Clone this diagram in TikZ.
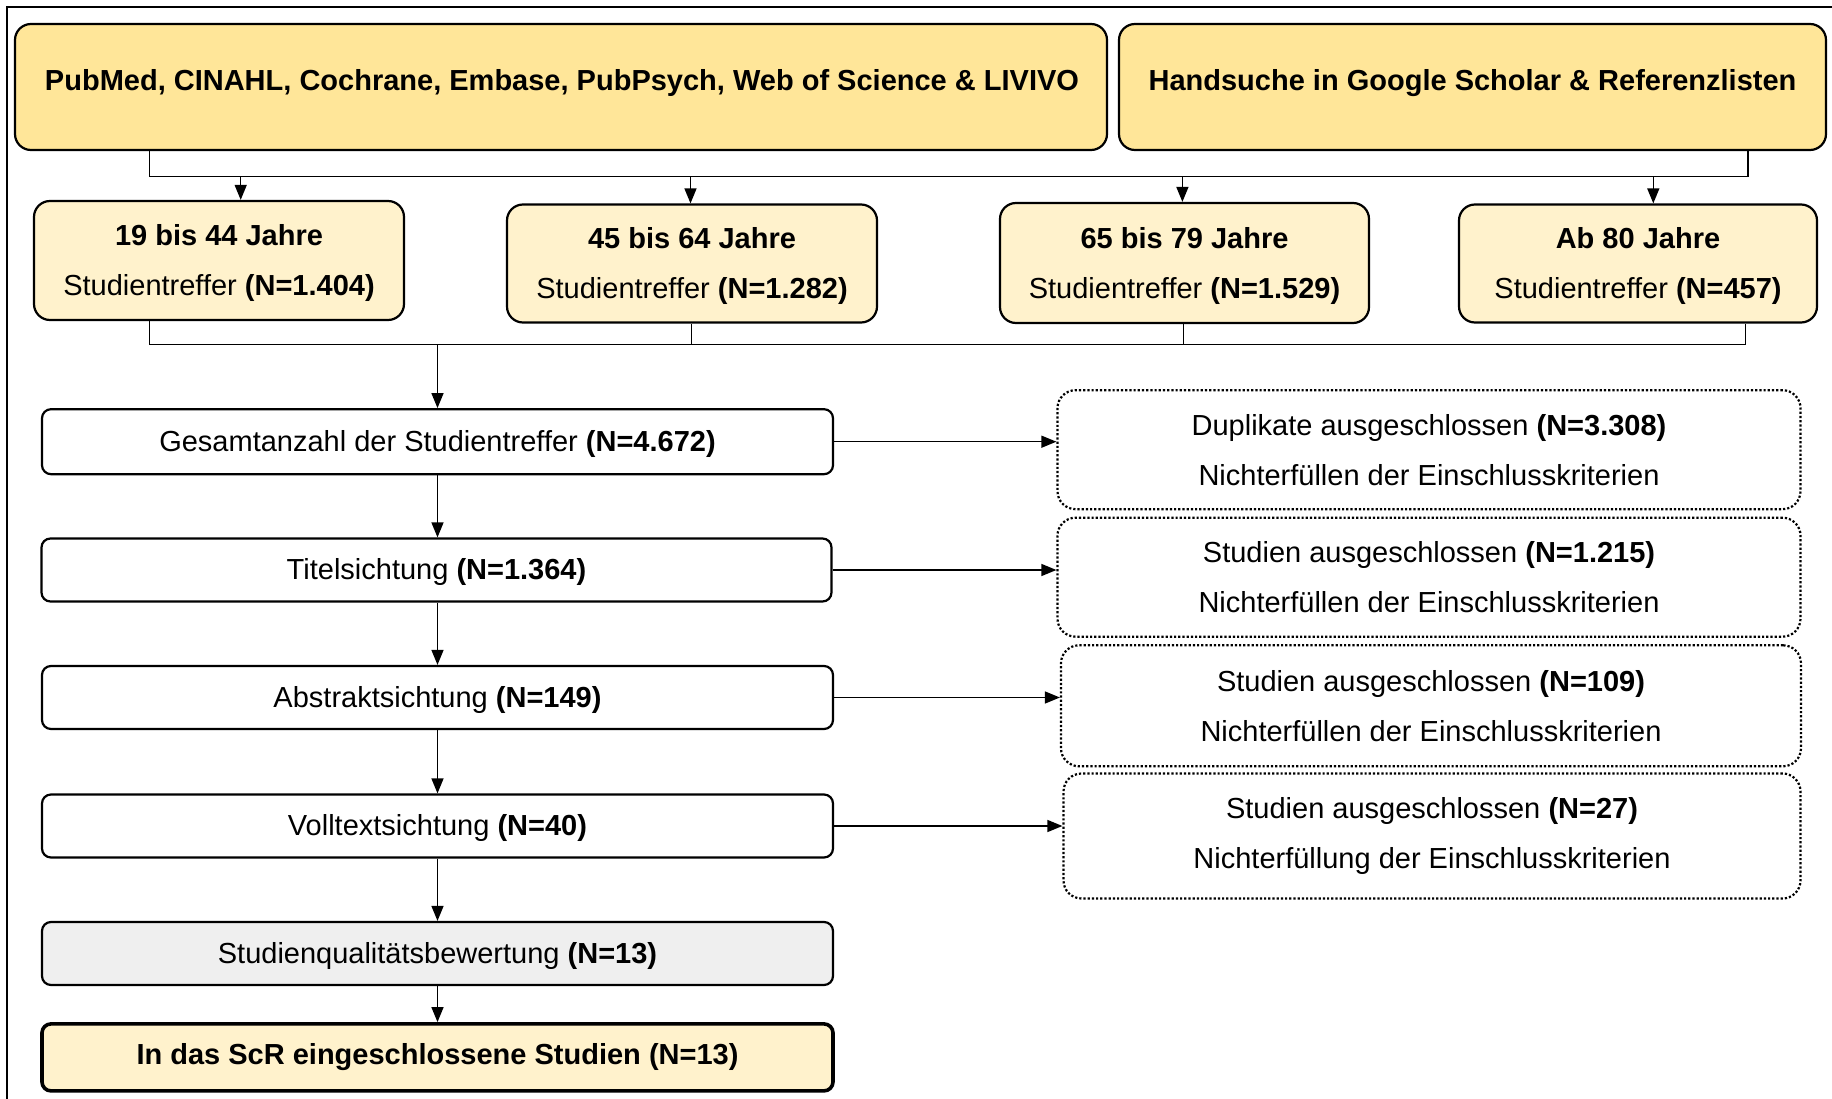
\documentclass[tikz,border=0pt]{standalone}
\usepackage{fontspec}
\setmainfont{Liberation Sans}
\usetikzlibrary{arrows.meta}
\definecolor{topyellow}{HTML}{FFE699}
\definecolor{lightyellow}{HTML}{FFF2CC}
\definecolor{lightgray}{HTML}{EFEFEF}
\tikzset{
  plainbase/.style={draw=black, line width=2.2pt, inner sep=0pt, align=center,
    font=\fontsize{29}{50}\selectfont},
  base/.style={plainbase, execute at begin node={\rule{0pt}{26pt}}},
  topbox/.style={base, fill=topyellow, rounded corners=16pt},
  agebox/.style={plainbase, execute at begin node={\rule{0pt}{77pt}},
    fill=lightyellow, rounded corners=16pt},
  stepbox/.style={base, fill=white, rounded corners=9pt},
  graybox/.style={stepbox, fill=lightgray},
  finalbox/.style={plainbase, fill=lightyellow, rounded corners=9pt, line width=3.6pt},
  exclbox/.style={plainbase, dotted, line width=2.2pt, rounded corners=18pt},
  conn/.style={line width=1.4pt},
  arr/.style={conn, -{Triangle[length=15pt,width=12pt]}},
  txt/.style={font=\fontsize{29}{50}\selectfont, inner sep=0pt}
}
\begin{document}
\begin{tikzpicture}[x=1pt,y=-1pt]
\useasboundingbox (0,0) rectangle (1832,1099);
% frame
\coordinate (fbl) at (7,1099);
\coordinate (ftl) at (7,7);
\coordinate (ftr) at (1832,7);
\draw[line width=1.5pt] (fbl) -- (ftl) -- (ftr);

% top sources
\node[topbox, minimum width=1092pt, minimum height=126pt] (db) at (561,87) {};
\node[txt] (dbt) at (562,83.5) {\textbf{PubMed, CINAHL, Cochrane, Embase, PubPsych, Web of Science \& LIVIVO}};
\node[topbox, minimum width=707pt, minimum height=126pt] (hs) at (1472.5,87) {};
\node[txt] (hst) at (1472.5,83.5) {\textbf{Handsuche in Google Scholar \& Referenzlisten}};

% age groups
\node[agebox, minimum width=370pt, minimum height=119pt] (a1) at (219,260.5)
  {\textbf{19 bis 44 Jahre}\\Studientreffer \textbf{(N=1.404)}};
\node[agebox, minimum width=370pt, minimum height=118pt] (a2) at (692,263.5)
  {\textbf{45 bis 64 Jahre}\\Studientreffer \textbf{(N=1.282)}};
\node[agebox, minimum width=369pt, minimum height=120pt] (a3) at (1184.5,263)
  {\textbf{65 bis 79 Jahre}\\Studientreffer \textbf{(N=1.529)}};
\node[agebox, minimum width=358pt, minimum height=118pt] (a4) at (1638,263.5)
  {\textbf{Ab 80 Jahre}\\Studientreffer \textbf{(N=457)}};

% top connectors
\coordinate (j1) at (149.6,176.4);
\coordinate (j2) at (1748,176.4);
\draw[conn] (j1 |- db.south) -- (j1) -- (j2) -- (j2 |- hs.south);
\coordinate (t1) at (240.7,176.4);
\coordinate (t2) at (690.5,176.4);
\coordinate (t3) at (1182.4,176.4);
\coordinate (t4) at (1653.3,176.4);
\draw[arr] (t1) -- (t1 |- a1.north);
\draw[arr] (t2) -- (t2 |- a2.north);
\draw[arr] (t3) -- (t3 |- a3.north);
\draw[arr] (t4) -- (t4 |- a4.north);

% left column
\node[stepbox, minimum width=791pt, minimum height=65pt] (ges) at (437.5,441.7)
  {Gesamtanzahl der Studientreffer \textbf{(N=4.672)}};
\node[stepbox, minimum width=790pt, minimum height=63pt] (tit) at (436.5,570)
  {Titelsichtung \textbf{(N=1.364)}};
\node[stepbox, minimum width=791pt, minimum height=63pt] (abs) at (437.5,697.5)
  {Abstraktsichtung \textbf{(N=149)}};
\node[stepbox, minimum width=791pt, minimum height=63pt] (vol) at (437.5,826)
  {Volltextsichtung \textbf{(N=40)}};
\node[graybox, minimum width=791pt, minimum height=63pt] (qual) at (437.5,953.5)
  {Studienqualitätsbewertung \textbf{(N=13)}};
\node[finalbox, minimum width=791pt, minimum height=67pt] (fin) at (437.5,1057.4)
  {\textbf{In das ScR eingeschlossene Studien (N=13)}};

% bottom connectors of age groups
\coordinate (b1) at (149.6,344.7);
\coordinate (b2) at (691.7,344.7);
\coordinate (b3) at (1183.6,344.7);
\coordinate (b4) at (1745.6,344.7);
\coordinate (bm) at (437.5,344.7);
\draw[conn] (b1 |- a1.south) -- (b1) -- (b4) -- (b4 |- a4.south);
\draw[conn] (b2 |- a2.south) -- (b2);
\draw[conn] (b3 |- a3.south) -- (b3);
\draw[arr] (bm) -- (bm |- ges.north);

% column arrows
\draw[arr] (ges.south) -- (ges.south |- tit.north);
\draw[arr] (tit.south -| ges.south) -- (ges.south |- abs.north);
\draw[arr] (abs.south) -- (vol.north);
\draw[arr] (vol.south) -- (qual.north);
\draw[arr] (qual.south) -- (fin.north);

% exclusion boxes
\node[exclbox, minimum width=743pt, minimum height=119pt] (r1) at (1429,449.7)
  {Duplikate ausgeschlossen \textbf{(N=3.308)}\\Nichterfüllen der Einschlusskriterien};
\node[exclbox, minimum width=743pt, minimum height=119pt] (r2) at (1429,577.2)
  {Studien ausgeschlossen \textbf{(N=1.215)}\\Nichterfüllen der Einschlusskriterien};
\node[exclbox, minimum width=740pt, minimum height=121pt] (r3) at (1431,705.8)
  {Studien ausgeschlossen \textbf{(N=109)}\\Nichterfüllen der Einschlusskriterien};
\node[exclbox, minimum width=737pt, minimum height=125pt] (r4) at (1432,836)
  {Studien ausgeschlossen \textbf{(N=27)}\\Nichterfüllung der Einschlusskriterien};

\draw[arr] (ges.east) -- (ges.east -| r1.west);
\draw[arr] (tit.east) -- (tit.east -| r2.west);
\draw[arr] (abs.east) -- (abs.east -| r3.west);
\draw[arr] (vol.east) -- (vol.east -| r4.west);
\end{tikzpicture}
\end{document}
